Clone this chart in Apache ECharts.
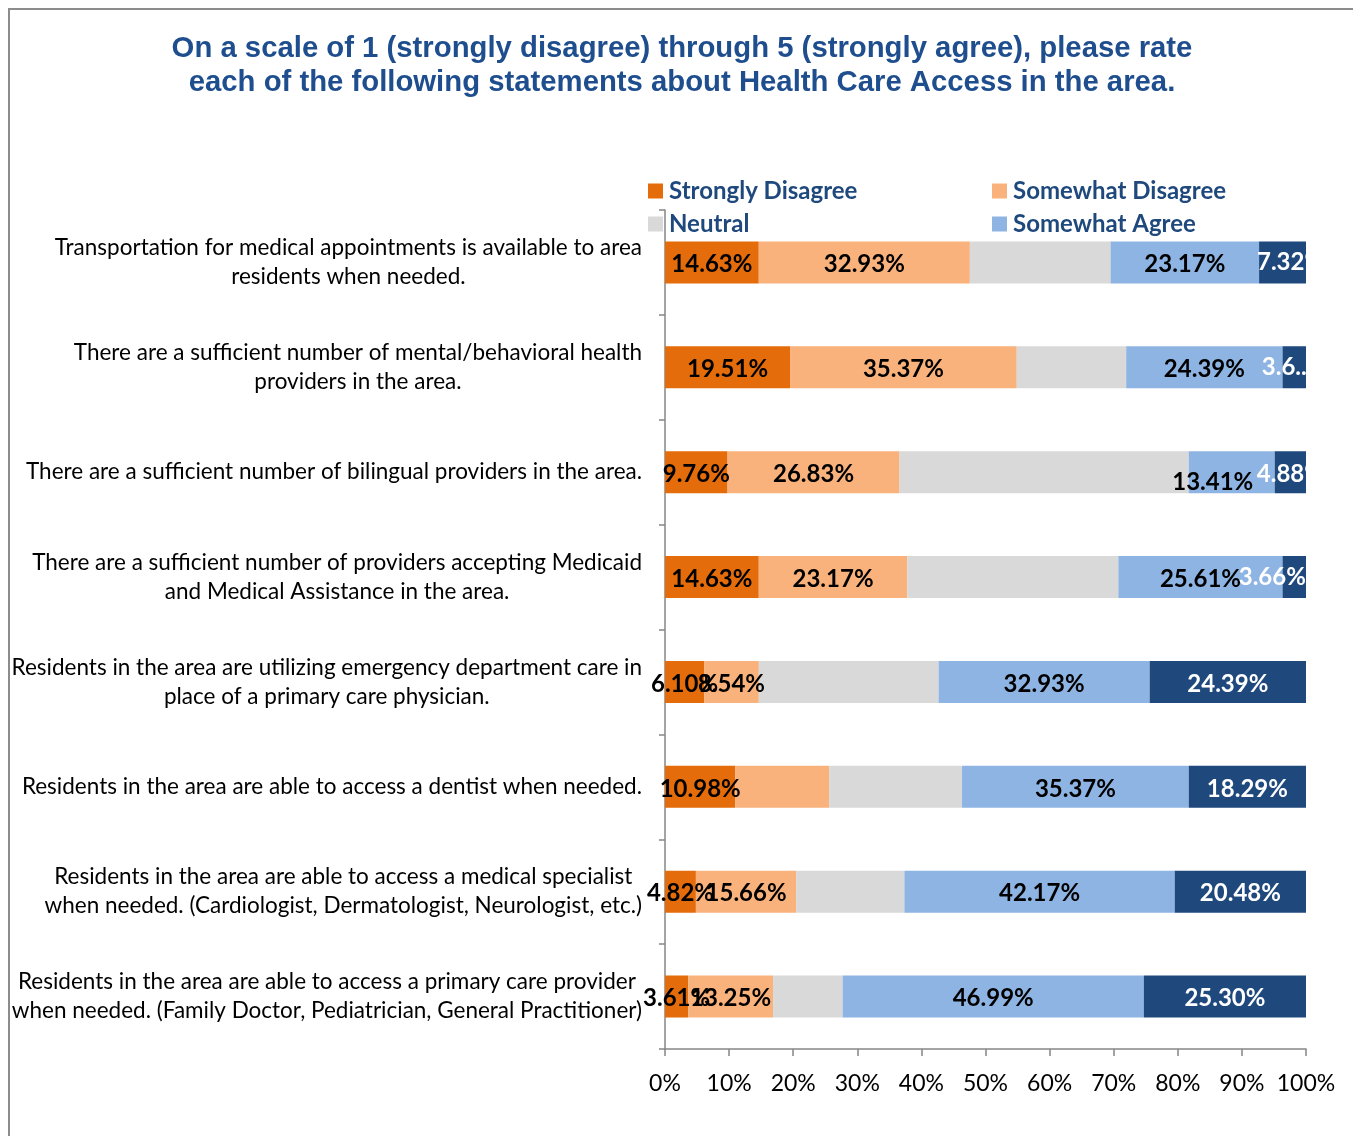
<!DOCTYPE html>
<html>
<head>
<meta charset="utf-8">
<script src="https://cdn.jsdelivr.net/npm/echarts@6/dist/echarts.min.js"></script>
<style>
  body { margin: 0; background: #fff; }
  #frame { position: absolute; left: 8px; top: 8px; width: 1360px; height: 1150px; border: 2px solid #8c8c8c; box-sizing: border-box; }
  #chart { position: absolute; left: 0; top: 0; width: 1353px; height: 1136px; }
</style>
</head>
<body>
<div id="frame"></div>
<div id="chart"></div>
<script>
var categories = [
  'Transportation for medical appointments is available to area\nresidents when needed.',
  'There are a sufficient number of mental/behavioral health\nproviders in the area.',
  'There are a sufficient number of bilingual providers in the area.',
  'There are a sufficient number of providers accepting Medicaid\nand Medical Assistance in the area.',
  'Residents in the area are utilizing emergency department care in\nplace of a primary care physician.',
  'Residents in the area are able to access a dentist when needed.',
  'Residents in the area are able to access a medical specialist\nwhen needed. (Cardiologist, Dermatologist, Neurologist, etc.)',
  'Residents in the area are able to access a primary care provider\nwhen needed. (Family Doctor, Pediatrician, General Practitioner)'
]
var seriesNames = ['Strongly Disagree', 'Somewhat Disagree', 'Neutral', 'Somewhat Agree', 'Strongly Agree']
var stronglyDisagree = [14.63, 19.51, 9.76, 14.63, 6.10, 10.98, 4.82, 3.61]
var somewhatDisagree = [32.93, 35.37, 26.83, 23.17, 8.54, 14.63, 15.66, 13.25]
var neutral = [21.95, 17.07, 45.12, 32.93, 28.04, 20.73, 16.87, 10.85]
var somewhatAgree = [23.17, 24.39, 13.41, 25.61, 32.93, 35.37, 42.17, 46.99]
var stronglyAgree = [7.32, 3.66, 4.88, 3.66, 24.39, 18.29, 20.48, 25.30]

var colors = ['#E46C0A', '#F9B27B', '#D9D9D9', '#8EB4E3', '#1F497D']
var labelColors = ['#000', '#000', '#000', '#000', '#fff']
var showLabels = [true, true, false, true, true]

// label tweaks copied from the original layout: [series, row, settings]
var labelTweaks = [
  [1, 5, { show: false }],
  [3, 2, { offset: [-19, 10] }],
  [4, 0, { offset: [8, 0] }],
  [4, 1, { width: 50, overflow: 'truncate', ellipsis: '..', offset: [-10, 0] }],
  [4, 3, { offset: [-22, 0] }]
]

var chart = echarts.init(document.getElementById('chart'))
var values = [stronglyDisagree, somewhatDisagree, neutral, somewhatAgree, stronglyAgree]

var series = values.map(function (vals, s) {
  return {
    name: seriesNames[s],
    type: 'bar',
    stack: 'total',
    barWidth: 42,
    itemStyle: { color: colors[s] },
    label: {
      show: showLabels[s],
      position: 'inside',
      offset: [0, 2],
      color: labelColors[s],
      fontFamily: 'Lato',
      fontWeight: 'bold',
      fontSize: 24,
      formatter: function (p) { return p.value.toFixed(2) + '%' }
    },
    data: vals.map(function (v, i) {
      var item = { value: v }
      labelTweaks.forEach(function (t) {
        if (t[0] === s && t[1] === i) item.label = t[2]
      })
      return item
    })
  }
})

var legendText = { color: '#1F497D', fontFamily: 'Lato', fontWeight: 'bold', fontSize: 24, padding: [0, 0, 0, 1] }

var option = {
  animation: false,
  title: {
    text: 'On a scale of 1 (strongly disagree) through 5 (strongly agree), please rate\neach of the following statements about Health Care Access in the area.',
    left: 677,
    textAlign: 'center',
    top: 27,
    textStyle: {
      color: '#1F4E8F',
      fontFamily: 'Liberation Sans',
      fontWeight: 'bold',
      fontSize: 29.3,
      lineHeight: 34
    }
  },
  legend: [
    {
      orient: 'vertical',
      left: 648,
      top: 179,
      padding: 0,
      itemWidth: 15,
      itemHeight: 15,
      itemGap: 9,
      icon: 'rect',
      textStyle: legendText,
      data: [seriesNames[0], seriesNames[2]]
    },
    {
      orient: 'vertical',
      left: 992,
      top: 179,
      padding: 0,
      itemWidth: 15,
      itemHeight: 15,
      itemGap: 9,
      icon: 'rect',
      textStyle: legendText,
      data: [seriesNames[1], seriesNames[3]]
    }
  ],
  grid: {
    left: 665,
    right: 47,
    top: 210,
    bottom: 87,
    outerBoundsMode: 'none'
  },
  xAxis: {
    type: 'value',
    min: 0,
    max: 100,
    interval: 10,
    splitLine: { show: false },
    axisLine: { show: true, lineStyle: { color: '#868686', width: 1.5 } },
    axisTick: { show: true, length: 7, lineStyle: { color: '#868686', width: 1.5 } },
    axisLabel: {
      color: '#000',
      fontFamily: 'Lato',
      fontSize: 23,
      margin: 23,
      formatter: '{value}%'
    }
  },
  yAxis: {
    type: 'category',
    inverse: true,
    data: categories,
    axisLine: { show: true, lineStyle: { color: '#868686', width: 1.5 } },
    axisTick: { show: true, length: 6, lineStyle: { color: '#868686', width: 1.5 } },
    axisLabel: {
      align: 'right',
      margin: 23,
      formatter: function (v) {
        return v.split('\n').map(function (l) { return '{c|' + l + '}' }).join('\n')
      },
      rich: {
        c: {
          align: 'center',
          color: '#000',
          fontFamily: 'Lato',
          fontSize: 22.5,
          lineHeight: 29
        }
      }
    }
  },
  series: series
}

chart.setOption(option)
</script>
</body>
</html>
